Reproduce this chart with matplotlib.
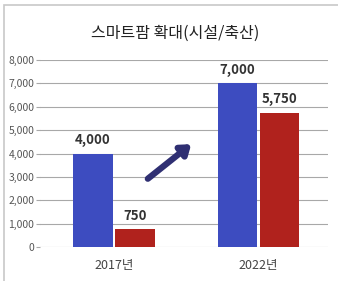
import matplotlib.pyplot as plt
from matplotlib.patches import Rectangle

plt.rcParams['font.family'] = ['Noto Sans CJK KR', 'DejaVu Sans']

TITLE = "스마트팜 확대(시설/축산)"
CATEGORIES = ["2017년", "2022년"]
SERIES_A = [4000, 7000]
SERIES_B = [750, 5750]
Y_TICKS = [0, 1000, 2000, 3000, 4000, 5000, 6000, 7000, 8000]

BLUE = "#3d4cc0"
RED = "#b0221d"
ARROW = "#2f2f72"

fig = plt.figure(figsize=(3.38, 2.81), dpi=100)
fig.patches.append(Rectangle((4 / 338, -0.1), 1.2, 1 - 5 / 281 + 0.1,
                             transform=fig.transFigure, fill=False,
                             edgecolor="#c8c8c8", linewidth=1.2))

ax = fig.add_axes([40 / 338, 1 - 247 / 281, 288 / 338, 187 / 281])

x = list(range(len(CATEGORIES)))
w = 0.275
gap = 0.015
xa = [i - w / 2 - gap / 2 for i in x]
xb = [i + w / 2 + gap / 2 for i in x]
ax.bar(xa, SERIES_A, width=w, color=BLUE, zorder=3)
ax.bar(xb, SERIES_B, width=w, color=RED, zorder=3)

for xs, vals in ((xa, SERIES_A), (xb, SERIES_B)):
    for xi, v in zip(xs, vals):
        ax.text(xi, v + 280, f"{v:,}", ha="center", va="bottom",
                fontsize=9.5, fontweight="bold", color="#333333")

ax.annotate("", xy=(0.535, 4400), xytext=(0.235, 2920),
            arrowprops=dict(arrowstyle="-|>,head_length=0.55,head_width=0.4",
                            color=ARROW, lw=4.5, shrinkA=0, shrinkB=0),
            zorder=4)

ax.set_xlim(-0.51, 1.48)
ax.set_ylim(0, 8000)
ax.set_yticks(Y_TICKS)
ax.set_yticklabels([f"{t:,}" for t in Y_TICKS])
ax.set_xticks(x)
ax.set_xticklabels(CATEGORIES)
ax.grid(axis="y", color="#a8a8a8", linewidth=0.8, zorder=0)
for s in ax.spines.values():
    s.set_visible(False)
ax.tick_params(axis="y", length=3, width=0.8, color="#a8a8a8",
               labelsize=7.5, labelcolor="#555555", pad=1)
ax.tick_params(axis="x", length=0, labelsize=9, labelcolor="#444444", pad=9)

fig.text(175 / 338, 1 - 33 / 281, TITLE, ha="center", va="center",
         fontsize=11.5, fontweight="medium", color="#222222")

fig.savefig("out.png", dpi=100)
